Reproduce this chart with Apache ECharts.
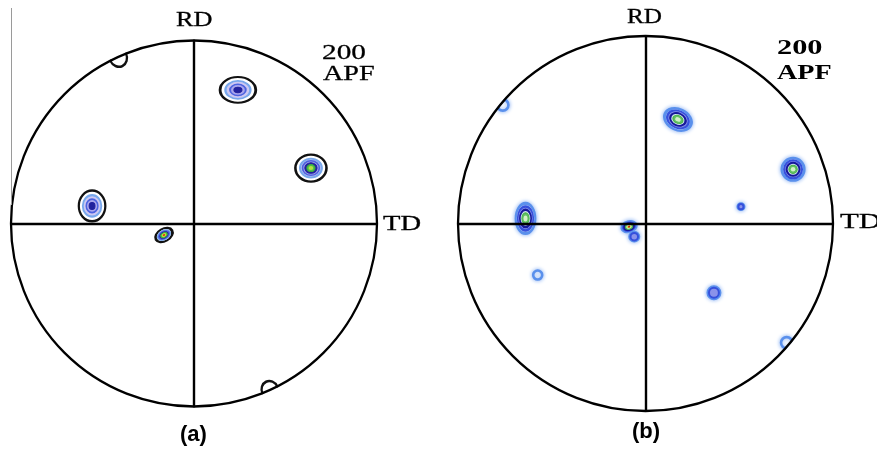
<!DOCTYPE html>
<html>
<head>
<meta charset="utf-8">
<script src="https://cdn.jsdelivr.net/npm/echarts@6/dist/echarts.min.js"></script>
<style>
  html, body { margin: 0; padding: 0; background: #ffffff; }
  #chart { width: 877px; height: 453px; }
</style>
</head>
<body>
<div id="chart"></div>
<script>
// {200} pole figures, coordinates normalised to the projection radius (RD up, TD right)

// (a) pole positions, contour level reached and spread of each pole
const aX       = [-0.415, 0.240, 0.639, -0.557, -0.164, 0.415];
const aY       = [ 0.910, 0.730, 0.303,  0.096, -0.063, -0.910];
const aLevel   = [1, 4, 6, 4, 8, 1];
const aSpreadX = [0.095, 0.195, 0.170, 0.145, 0.100, 0.090];
const aSpreadY = [0.110, 0.140, 0.148, 0.168, 0.068, 0.100];
const aTilt    = [25, 0, 0, 0, 30, 25];

// (b) pole positions, contour level reached and spread of each pole
const bX       = [-0.761, 0.173, 0.787, 0.509, -0.640, -0.088, -0.060, -0.575, 0.365, 0.753];
const bY       = [ 0.632, 0.555, 0.289, 0.090,  0.027, -0.017, -0.070, -0.275, -0.369, -0.636];
const bLevel   = [1, 5, 5, 2, 5, 7, 2, 1, 2, 1];
const bSpreadX = [0.060, 0.150, 0.120, 0.034, 0.105, 0.078, 0.050, 0.048, 0.066, 0.060];
const bSpreadY = [0.060, 0.112, 0.120, 0.034, 0.160, 0.056, 0.050, 0.048, 0.066, 0.060];
const bTilt    = [0, -25, 0, 0, 0, 15, 0, 0, 0, 0];

// text
const axisNames = ['RD', 'TD'];
const planeLabel = ['200', 'APF'];
const panelLabels = ['(a)', '(b)'];

// contour colour scales, lowest level first
const paletteA = {
  gap: 0.70,
  levels: [
    { line: '#111111', fill: '#ffffff', w: 2.4 },
    { line: '#78a8ec', fill: '#cdc8f2', w: 2 },
    { line: '#4c62e0', fill: '#aaa6ec', w: 1.6 },
    { line: '#20209e', fill: '#22229e', w: 1 },
    { line: '#3cae3c', fill: '#4cc04c', w: 1 },
    { line: '#b8e044', fill: '#b8e044', w: 0 },
    { line: '#f0c020', fill: '#f0c020', w: 0 },
    { line: '#d42020', fill: '#d42020', w: 0 }
  ]
};
const paletteB = {
  gap: 0.80,
  levels: [
    { line: '#5a90ec', fill: '#ffffff', w: 2.6, glow: '#8fb4f2' },
    { line: '#3550dc', fill: '#8a92ea', w: 2 },
    { line: '#16189a', fill: '#d2e6f0', w: 2 },
    { line: '#4cb04c', fill: '#62c262', w: 1 },
    { line: '#d4f0c8', fill: '#d4f0c8', w: 0 },
    { line: '#e6d820', fill: '#e6d820', w: 0 },
    { line: '#c81818', fill: '#c81818', w: 0 }
  ]
};

// layout of the two projections
const panels = [
  { cx: 194,   cy: 223.5, r: 183 },
  { cx: 645.5, cy: 223.5, r: 187.5 }
];

function contourSeries(idx, xs, ys, lv, sx, sy, tilt, palette) {
  const r = panels[idx].r;
  const top = Math.max.apply(null, lv);
  const out = [];
  for (let k = 0; k < top; k++) {
    const data = [];
    for (let i = 0; i < xs.length; i++) {
      if (lv[i] <= k) continue;
      const f = k === 0 ? 1
        : palette.gap * Math.pow(1 - ((k - 1) / Math.max(lv[i] - 1, 1)) * 0.8, 1.5);
      data.push({
        value: [xs[i], ys[i]],
        symbolSize: [sx[i] * r * f, sy[i] * r * f],
        symbolRotate: tilt[i]
      });
    }
    const p = palette.levels[Math.min(k, palette.levels.length - 1)];
    const style = { color: p.fill, borderColor: p.line, borderWidth: p.w, opacity: 1 };
    if (p.glow) { style.shadowBlur = 4; style.shadowColor = p.glow; }
    out.push({
      type: 'scatter',
      xAxisIndex: idx,
      yAxisIndex: idx,
      symbol: 'circle',
      silent: true,
      z: 2 + k,
      itemStyle: style,
      data: data
    });
  }
  return out;
}

const grids = panels.map(p => ({
  left: p.cx - p.r, top: p.cy - p.r, width: 2 * p.r, height: 2 * p.r
}));

function axis(idx) {
  return {
    type: 'value', gridIndex: idx, min: -1, max: 1, z: 20,
    axisLine: { show: true, onZero: true, lineStyle: { color: '#000', width: 2.4 } },
    axisTick: { show: false }, axisLabel: { show: false }, splitLine: { show: false }
  };
}

const serifFont = '"Liberation Serif", "Times New Roman", serif';
const sansFont = '"Liberation Sans", Arial, sans-serif';
const textEl = (x, y, txt, size, weight, sx, family, stroke) => ({
  type: 'text', x: x, y: y, scaleX: sx, z: 40, silent: true,
  style: {
    text: txt, fill: '#000',
    stroke: stroke ? '#000' : null, lineWidth: stroke || 0,
    font: weight + ' ' + size + 'px ' + family
  }
});

const graphic = [];
panels.forEach(p => {
  // white collar hides contour parts lying outside the projection
  graphic.push({ type: 'ring', z: 30, silent: true,
    shape: { cx: p.cx, cy: p.cy, r: p.r + 30, r0: p.r + 1 },
    style: { fill: '#ffffff' } });
  graphic.push({ type: 'circle', z: 31, silent: true,
    shape: { cx: p.cx, cy: p.cy, r: p.r },
    style: { fill: 'none', stroke: '#000', lineWidth: 2.3 } });
});
graphic.push({ type: 'line', z: 41, silent: true,
  shape: { x1: 11.5, y1: 8, x2: 11.5, y2: 205 },
  style: { stroke: '#9a9a9a', lineWidth: 1 } });

graphic.push(textEl(176, 10, axisNames[0], 21, 'normal', 1.25, serifFont, 0.3));
graphic.push(textEl(383, 213, axisNames[1], 22, 'normal', 1.3, serifFont, 0.3));
graphic.push(textEl(322, 42, planeLabel[0], 22, 'normal', 1.33, serifFont, 0.3));
graphic.push(textEl(323, 63, planeLabel[1], 22, 'normal', 1.28, serifFont, 0.3));
graphic.push(textEl(627, 7, axisNames[0], 21, 'normal', 1.2, serifFont, 0.3));
graphic.push(textEl(840, 211, axisNames[1], 22, 'normal', 1.4, serifFont, 0.3));
graphic.push(textEl(777, 37, planeLabel[0], 22, 'bold', 1.38, serifFont, 0));
graphic.push(textEl(777, 62, planeLabel[1], 22, 'bold', 1.28, serifFont, 0));
graphic.push(textEl(180, 424, panelLabels[0], 22, 'bold', 1, sansFont, 0));
graphic.push(textEl(632, 421, panelLabels[1], 22, 'bold', 1, sansFont, 0));

const chart = echarts.init(document.getElementById('chart'), null, { renderer: 'canvas' });
chart.setOption({
  animation: false,
  backgroundColor: '#ffffff',
  grid: grids,
  xAxis: [axis(0), axis(1)],
  yAxis: [axis(0), axis(1)],
  series: []
    .concat(contourSeries(0, aX, aY, aLevel, aSpreadX, aSpreadY, aTilt, paletteA))
    .concat(contourSeries(1, bX, bY, bLevel, bSpreadX, bSpreadY, bTilt, paletteB)),
  graphic: graphic
});
</script>
</body>
</html>
